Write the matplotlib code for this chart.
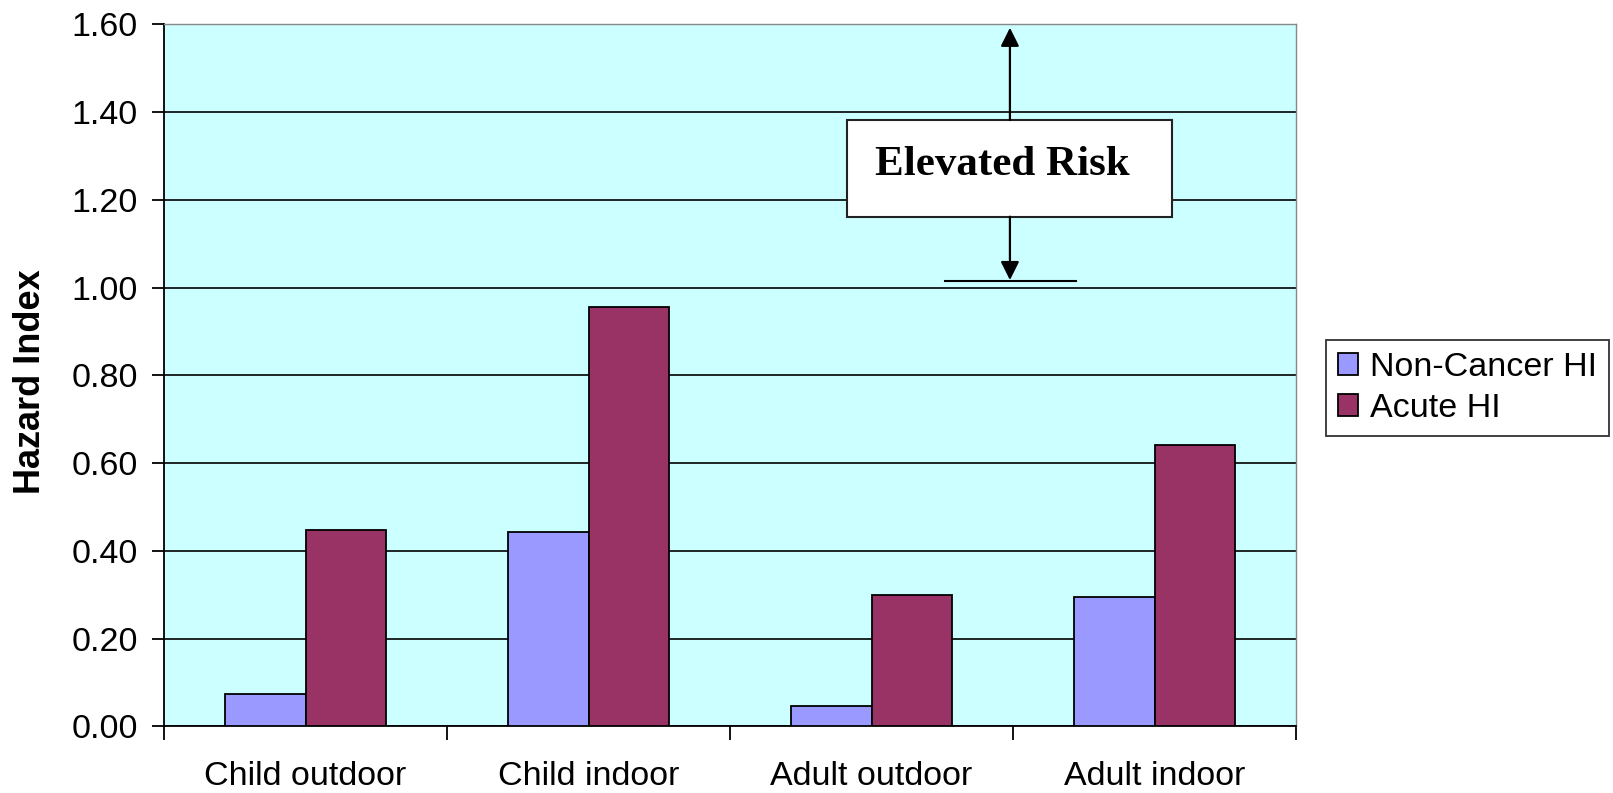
import numpy as np
import matplotlib
matplotlib.use("Agg")
import matplotlib.pyplot as plt
from matplotlib.patches import Rectangle, FancyArrowPatch

categories = ["Child outdoor", "Child indoor", "Adult outdoor", "Adult indoor"]
non_cancer_hi = [0.074, 0.442, 0.047, 0.295]
acute_hi = [0.448, 0.955, 0.300, 0.641]
series_names = ["Non-Cancer HI", "Acute HI"]
y_ticks = [0.0, 0.2, 0.4, 0.6, 0.8, 1.0, 1.2, 1.4, 1.6]

plt.rcParams["font.family"] = ["Liberation Sans", "DejaVu Sans"]

fig = plt.figure(figsize=(16.13, 7.93), dpi=100)
ax = fig.add_axes([0.1017, 0.0841, 0.7018, 0.8853])
ax.set_facecolor("#CCFFFF")

x = np.arange(len(categories))
width = 0.2857
ax.bar(x - width / 2, non_cancer_hi, width, color="#9999FF", edgecolor="black",
       linewidth=1.3, label=series_names[0], zorder=3)
ax.bar(x + width / 2, acute_hi, width, color="#993366", edgecolor="black",
       linewidth=1.3, label=series_names[1], zorder=3)

ax.set_xlim(-0.5, len(categories) - 0.5)
ax.set_ylim(0, 1.6)
ax.set_yticks(y_ticks)
ax.set_yticklabels([f"{v:.2f}" for v in y_ticks])
ax.yaxis.grid(True, color="black", linewidth=1.2, zorder=1)
ax.set_axisbelow(True)

ax.set_xticks(x)
ax.set_xticklabels(categories)
ax.set_xticks(np.arange(-0.5, len(categories)), minor=True)
ax.tick_params(axis="x", which="major", length=0, pad=25, labelsize=24.5)
ax.tick_params(axis="x", which="minor", length=10, width=1.3, direction="out")
ax.tick_params(axis="y", length=9, width=1.3, direction="out", pad=10, labelsize=24.5)

for side in ("left", "bottom"):
    ax.spines[side].set_color("black")
    ax.spines[side].set_linewidth(1.3)
for side in ("top", "right"):
    ax.spines[side].set_color("#888888")
    ax.spines[side].set_linewidth(1.0)

fig.text(0.019, 1 - 382 / 793, "Hazard Index", rotation=90, va="center", ha="center",
         fontsize=26, fontweight="bold")

# "Elevated Risk" call-out above the 1.0 threshold
box = Rectangle((1.914, 1.1615), 3.063 - 1.914, 1.382 - 1.1615, facecolor="white",
                edgecolor="#222222", linewidth=1.5, zorder=5)
ax.add_patch(box)
ax.text(2.463, 1.279, "Elevated Risk", ha="center", va="center", fontsize=31,
        fontweight="bold", family=["Liberation Serif", "DejaVu Serif"], zorder=6)
ax.add_patch(FancyArrowPatch((2.489, 1.382), (2.489, 1.592), arrowstyle="-|>",
                             mutation_scale=28, color="black", linewidth=1.6,
                             shrinkA=0, shrinkB=0, zorder=6))
ax.add_patch(FancyArrowPatch((2.489, 1.1615), (2.489, 1.017), arrowstyle="-|>",
                             mutation_scale=28, color="black", linewidth=1.6,
                             shrinkA=0, shrinkB=0, zorder=6))
ax.plot([2.26, 2.722], [1.015, 1.015], color="black", linewidth=1.5, zorder=6)

leg = fig.legend(loc="center left", bbox_to_anchor=(1326 / 1613, 1 - 388 / 793),
                 fontsize=24.5, frameon=True, fancybox=False, edgecolor="black",
                 handlelength=0.6, handleheight=0.6, handletextpad=0.35,
                 borderpad=0.35, labelspacing=0.3, borderaxespad=0)
leg.get_frame().set_linewidth(1.3)

fig.savefig("out.png", dpi=100, facecolor="white")
